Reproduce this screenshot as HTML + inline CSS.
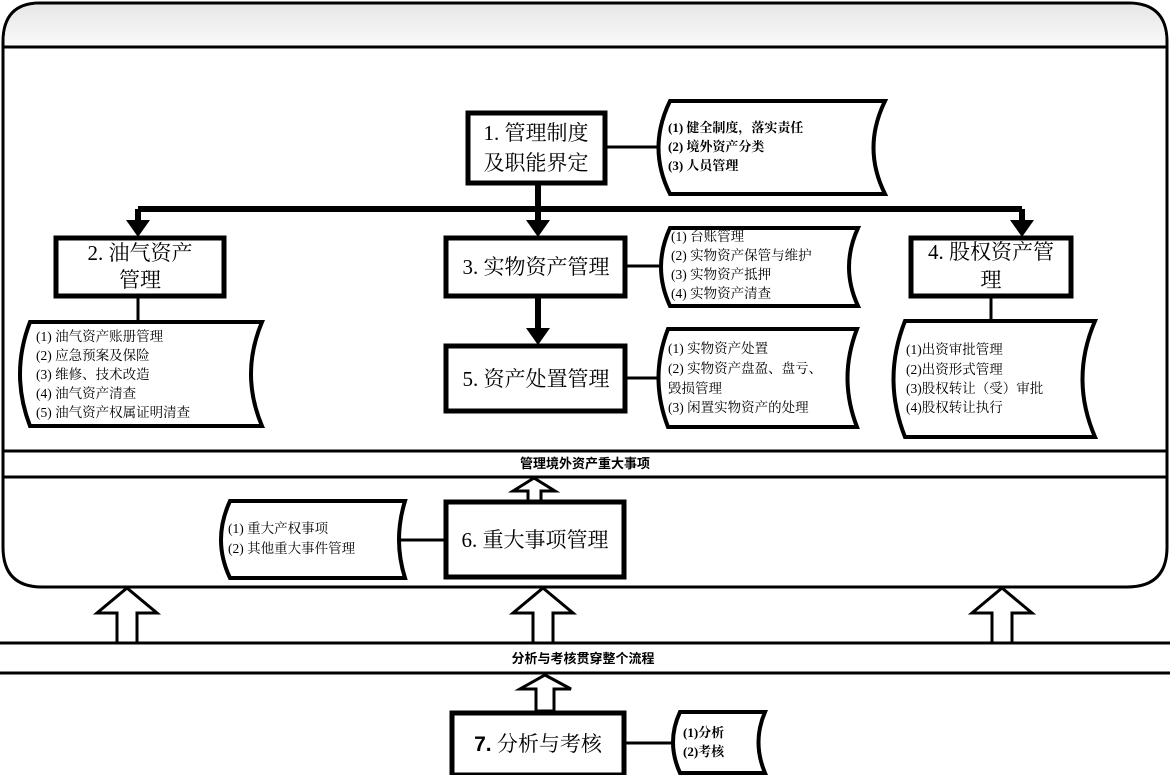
<!DOCTYPE html>
<html><head><meta charset="utf-8"><style>
html,body{margin:0;padding:0;background:#fff;}
svg{display:block;}
text{font-family:"Liberation Serif","Noto Serif CJK SC","WenQuanYi Zen Hei",serif;fill:#000;}
.b{font-family:"Liberation Sans","WenQuanYi Zen Hei","Noto Sans CJK SC",sans-serif;font-weight:bold;}
</style></head><body>
<svg width="1170" height="775" viewBox="0 0 1170 775" xmlns="http://www.w3.org/2000/svg">
<defs>
<linearGradient id="g" x1="0" y1="0" x2="0" y2="1"><stop offset="0" stop-color="#e6e6e6"/><stop offset="1" stop-color="#fafafa"/></linearGradient>
</defs>
<!-- outer container -->
<path d="M40,3 H1128 Q1167,3 1167,42 V547 Q1167,587 1127,587 H42 Q3,587 3,547 V42 Q3,3 40,3 Z" fill="#fff" stroke="#000" stroke-width="3"/>
<path d="M40,4.5 H1128 Q1165.5,4.5 1165.5,42 V46 H4.5 V42 Q4.5,4.5 40,4.5 Z" fill="url(#g)"/>
<line x1="3" y1="47" x2="1167" y2="47" stroke="#000" stroke-width="3"/>
<line x1="3" y1="451" x2="1167" y2="451" stroke="#000" stroke-width="3"/>
<line x1="3" y1="477" x2="1167" y2="477" stroke="#000" stroke-width="3"/>
<text x="585" y="468" class="b" font-size="13" text-anchor="middle">管理境外资产重大事项</text>

<!-- connectors -->
<g stroke="#000" fill="none">
<line x1="538" y1="183" x2="538" y2="222" stroke-width="6"/>
<line x1="138" y1="209" x2="1022" y2="209" stroke-width="6"/>
<line x1="138" y1="209" x2="138" y2="222" stroke-width="6"/>
<line x1="1022" y1="209" x2="1022" y2="222" stroke-width="6"/>
<line x1="538" y1="296" x2="538" y2="330" stroke-width="6"/>
<line x1="605" y1="147" x2="662" y2="147" stroke-width="3"/>
<line x1="625" y1="266" x2="665" y2="266" stroke-width="3"/>
<line x1="625" y1="378" x2="660" y2="378" stroke-width="3"/>
<line x1="138" y1="296" x2="138" y2="322" stroke-width="3"/>
<line x1="991" y1="296" x2="991" y2="321" stroke-width="3"/>
<line x1="400" y1="540" x2="445" y2="540" stroke-width="3"/>
<line x1="624" y1="743" x2="672" y2="743" stroke-width="3"/>
</g>
<g fill="#000">
<polygon points="126,220 150,220 138,237"/>
<polygon points="526,220 550,220 538,237"/>
<polygon points="1010,220 1034,220 1022,237"/>
<polygon points="526,328 550,328 538,345"/>
</g>

<!-- boxes -->
<g fill="#fff" stroke="#000" stroke-width="5">
<rect x="468" y="113" width="137" height="70"/>
<rect x="56" y="238" width="168" height="58"/>
<rect x="446" y="238" width="179" height="58"/>
<rect x="911" y="238" width="160" height="58"/>
<rect x="446" y="346" width="179" height="65"/>
<rect x="446" y="502" width="178" height="75"/>
<rect x="452" y="713" width="172" height="62"/>
</g>
<g font-size="21">
<text x="536" y="140" text-anchor="middle">1. 管理制度</text>
<text x="536" y="170" text-anchor="middle">及职能界定</text>
<text x="140" y="260" text-anchor="middle">2. 油气资产</text>
<text x="140" y="287" text-anchor="middle">管理</text>
<text x="536" y="274" text-anchor="middle">3. 实物资产管理</text>
<text x="991" y="259" text-anchor="middle">4. 股权资产管</text>
<text x="991" y="287" text-anchor="middle">理</text>
<text x="536" y="386" text-anchor="middle">5. 资产处置管理</text>
<text x="535" y="547" text-anchor="middle">6. 重大事项管理</text>
<text x="538" y="751" text-anchor="middle"><tspan class="b">7.</tspan> 分析与考核</text>
</g>

<!-- documents -->
<g fill="#fff" stroke="#000" stroke-width="4">
<path d="M670,101 H885 Q862,148 885,194 H670 Q647,148 670,101 Z"/>
<path d="M670,228 H858 Q840,267 858,306 H670 Q652,267 670,228 Z"/>
<path d="M668,329 H857 Q838,378 857,427 H668 Q649,378 668,329 Z"/>
<path d="M30,322 H262 Q240,374 262,426 H30 Q10,374 30,322 Z"/>
<path d="M905,321 H1095 Q1070,379 1095,437 H905 Q882,379 905,321 Z"/>
<path d="M230,501 H405 Q393,540 405,578 H230 Q212,540 230,501 Z"/>
<path d="M680,712 H765 Q752,742 765,773 H680 Q666,742 680,712 Z"/>
</g>
<g font-size="13" class="b">
<text x="668" y="132">(1) 健全制度，落实责任</text>
<text x="668" y="151">(2) 境外资产分类</text>
<text x="668" y="170">(3) 人员管理</text>
</g>
<g font-size="13.5">
<text x="671" y="241">(1) 台账管理</text>
<text x="671" y="260">(2) 实物资产保管与维护</text>
<text x="671" y="279">(3) 实物资产抵押</text>
<text x="671" y="298">(4) 实物资产清查</text>
<text x="668" y="353">(1) 实物资产处置</text>
<text x="668" y="373">(2) 实物资产盘盈、盘亏、</text>
<text x="668" y="393">毁损管理</text>
<text x="668" y="412">(3) 闲置实物资产的处理</text>
<text x="36" y="341">(1) 油气资产账册管理</text>
<text x="36" y="360">(2) 应急预案及保险</text>
<text x="36" y="379">(3) 维修、技术改造</text>
<text x="36" y="398">(4) 油气资产清查</text>
<text x="36" y="417">(5) 油气资产权属证明清查</text>
<text x="906" y="354">(1)出资审批管理</text>
<text x="906" y="374">(2)出资形式管理</text>
<text x="906" y="393">(3)股权转让（受）审批</text>
<text x="906" y="412">(4)股权转让执行</text>
<text x="228" y="533">(1) 重大产权事项</text>
<text x="228" y="553">(2) 其他重大事件管理</text>
</g>
<g font-size="13" class="b">
<text x="683" y="737">(1)分析</text>
<text x="683" y="756">(2)考核</text>
</g>

<!-- bottom band -->
<line x1="0" y1="643" x2="1170" y2="643" stroke="#000" stroke-width="3"/>
<line x1="0" y1="673" x2="1170" y2="673" stroke="#000" stroke-width="3"/>
<text x="583" y="663" class="b" font-size="13" text-anchor="middle">分析与考核贯穿整个流程</text>

<!-- hollow arrows -->
<g fill="#fff" stroke="#000" stroke-width="3" stroke-linejoin="miter">
<polygon points="127,588 157,613 137,613 137,643 117,643 117,613 97,613"/>
<polygon points="543,588 573,613 553,613 553,643 533,643 533,613 513,613"/>
<polygon points="1002,588 1032,613 1012,613 1012,643 992,643 992,613 972,613"/>
<polygon points="545,675 571,689 554,689 554,711 536,711 536,689 520,689"/>
<polygon points="534,478 555,491 541,491 541,501 528,501 528,491 513,491"/>
</g>
</svg>
</body></html>
